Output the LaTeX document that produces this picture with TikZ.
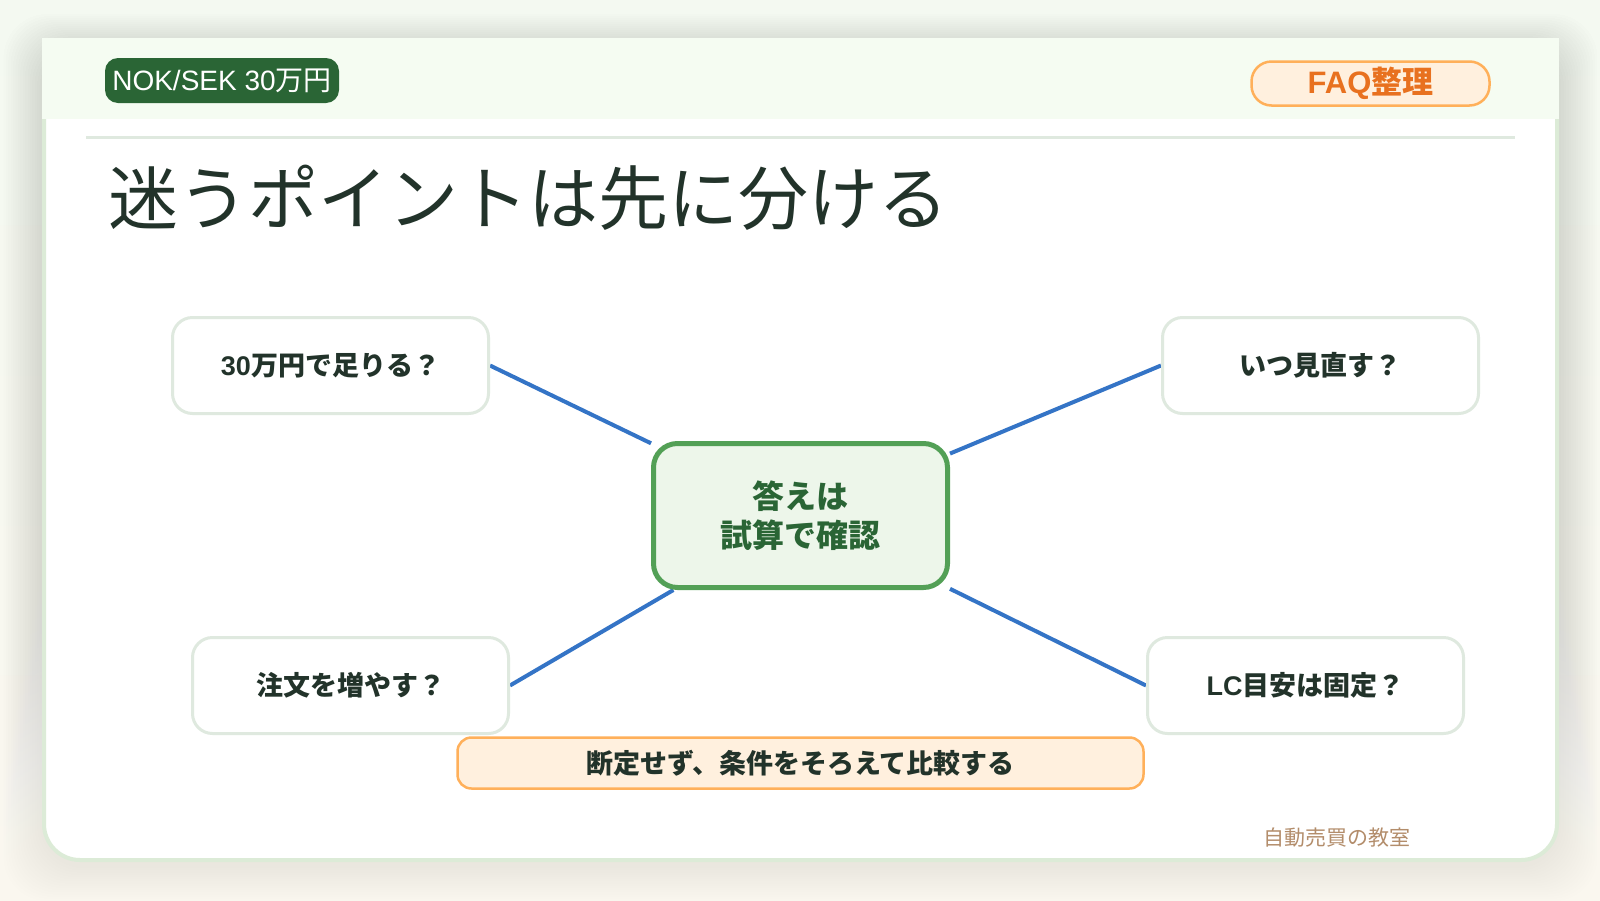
\documentclass[tikz,border=0pt]{standalone}
\usepackage{fontspec}
\setmainfont{Noto Sans CJK JP}
\newfontfamily\lat{Liberation Sans}
\definecolor{ink}{HTML}{22332A}
\definecolor{leaf}{HTML}{2A6535}
\definecolor{leafln}{HTML}{53A056}
\definecolor{leafbg}{HTML}{EDF6EA}
\definecolor{mint}{HTML}{F5FCF2}
\definecolor{rim}{HTML}{DCEBD7}
\definecolor{qrim}{HTML}{DFE9DF}
\definecolor{peach}{HTML}{FFF0DE}
\definecolor{peachln}{HTML}{FFB05A}
\definecolor{tang}{HTML}{E8711F}
\definecolor{wire}{HTML}{3474C6}
\definecolor{sand}{HTML}{B38D6B}
\definecolor{pagetop}{HTML}{F4F9F1}
\definecolor{pagebot}{HTML}{FAF7EF}
\definecolor{shade}{HTML}{6A6450}
\pgfdeclarelayer{back}
\pgfdeclarelayer{wires}
\pgfsetlayers{back,wires,main}
\tikzset{
  q/.style={draw=qrim, line width=3pt, fill=white, rounded corners=20pt, minimum width=316pt, minimum height=96pt, text=ink, font=\bfseries\fontsize{27}{32}\selectfont},
  hub/.style={draw=leafln, line width=5pt, fill=leafbg, rounded corners=24pt, minimum width=294pt, minimum height=144pt, text=leaf, align=center, font=\bfseries\fontsize{32}{39}\selectfont},
  tag/.style={fill=leaf, rounded corners=13pt, text=white, minimum width=234pt, minimum height=45pt, inner xsep=4pt, font=\fontsize{28}{30}\selectfont},
  faq/.style={draw=peachln, fill=peach, line width=2.5pt, rounded corners=20pt, minimum width=238pt, minimum height=44pt, text=tang, font=\bfseries\fontsize{31}{36}\selectfont},
  note/.style={draw=peachln, fill=peach, line width=2.5pt, rounded corners=14pt, minimum width=686pt, minimum height=51pt, text=ink, font=\bfseries\fontsize{27}{32}\selectfont},
  ln/.style={draw=wire, line width=4pt},
}
\begin{document}
\begin{tikzpicture}[x=1pt, y=-1pt]
\useasboundingbox (0,0) rectangle (1600,900);
\begin{pgfonlayer}{back}
% page, shadow and card
\shade[top color=pagetop, bottom color=pagebot] (0,0) rectangle (1600,900);
\foreach \i in {1,...,16}
  \fill[shade, opacity=0.004, rounded corners=44pt] (42-2.4*\i,46-2*\i) rectangle (1559+2.4*\i,866+2.2*\i);
\filldraw[fill=white, draw=rim, line width=4pt, rounded corners=36pt] (44,40) rectangle (1557,860);
\fill[mint] (42,38) rectangle (1559,119);
\draw[qrim, line width=3pt] (86,137) -- (1515,137);
\end{pgfonlayer}
% header
\node[tag] (pair) at (222,80.5) {{\lat NOK/SEK 30}万円};
\node[faq] (kind) at (1370.5,83.5) {{\lat FAQ}整理};
\node[anchor=base west, inner sep=0pt, text=ink, font=\fontsize{70}{80}\selectfont] (title) at (108,224) {迷うポイントは先に分ける};
% map
\node[hub] (ans) at (800.5,515.5) {答えは\\試算で確認};
\node[q] (q1) at (330.5,365.5) {{\lat 30}万円で足りる？};
\node[q] (q2) at (1320.5,365.5) {いつ見直す？};
\node[q] (q3) at (350.5,685.5) {注文を増やす？};
\node[q] (q4) at (1305.5,685.5) {{\lat LC}目安は固定？};
\begin{pgfonlayer}{wires}
\draw[ln] (q1.east) -- (ans);
\draw[ln] (q2.west) -- (ans);
\draw[ln] (q3.east) -- (ans);
\draw[ln] (q4.west) -- (ans);
\end{pgfonlayer}
\node[note] (tip) at (800.5,763) {断定せず、条件をそろえて比較する};
\node[anchor=west, inner sep=0pt, text=sand, font=\fontsize{21}{24}\selectfont] (brand) at (1263,838) {自動売買の教室};
\end{tikzpicture}
\end{document}
